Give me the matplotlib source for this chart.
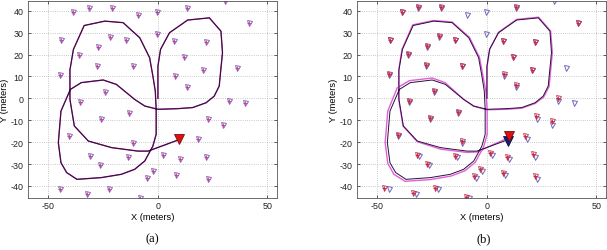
import matplotlib
matplotlib.use('Agg')
import matplotlib.pyplot as plt
import numpy as np

plt.rcParams['font.family'] = ['Liberation Sans', 'DejaVu Sans']
plt.rcParams['axes.unicode_minus'] = False

# True landmark positions (meters)
lm_x = [-38.6, -31.4, -20.9, -9.3, -0.6, 13.3, 30.6, 41.4, -44.1, -21.7,
        -14.4, -0.5, 7.4, 21.8, -27.3, -35.9, 12.0, -28.0, -11.5, 36.0,
        20.7, -44.7, 7.6, 13.3, -24.4, 32.4, 40.0, -35.5, -13.4, -25.8,
        22.7, 29.8, -40.8, 18.3, -11.5, -31.2, -13.6, 2.3, 10.3, 22.0,
        -26.4, -2.3, -4.9, 8.3, 22.9, -44.9, -32.6, -22.3, -8.2]
lm_y = [39.4, 41.4, 41.1, 38.0, 39.4, 41.4, 44.7, 34.6, 26.6, 27.9,
        26.9, 29.4, 26.0, 25.7, 23.3, 19.6, 19.0, 14.6, 14.6, 14.0,
        12.8, 10.8, 10.0, 5.0, 2.7, -1.4, -2.3, -1.7, -6.5, -9.6,
        -9.4, -12.0, -17.2, -18.7, -20.2, -26.3, -26.9, -25.7, -27.7, -26.9,
        -30.4, -33.2, -36.5, -35.2, -37.0, -41.4, -43.7, -41.2, -45.7]

# Estimated landmark positions in panel (b) (NaN = not estimated)
nan = np.nan
est_lm_x = [-38.6, -31.4, -20.9, nan, nan, 13.3, nan, 41.4, -44.1, -21.7,
            -14.4, nan, 7.4, 21.8, -27.3, -35.9, 12.0, -28.0, -11.5, nan,
            20.7, -44.7, 7.6, 13.3, -24.4, 32.4, nan, -35.5, -13.4, -25.8,
            22.2, 29.8, -40.8, 17.3, -11.5, -32.0, -14.4, 1.3, 9.3, 21.0,
            -27.2, -3.3, -5.9, 7.3, 21.9, -46.9, -33.8, -23.8, -9.4]
est_lm_y = [39.7, 41.9, 41.6, nan, nan, 41.9, nan, 34.6, 26.6, 28.4,
            26.9, nan, 26.3, 25.7, 23.8, 20.1, 19.0, 15.1, 14.6, nan,
            12.8, 11.3, 11.0, 6.0, 3.2, 0.1, nan, -1.2, -6.0, -9.1,
            -7.9, -10.5, -16.7, -17.2, -19.7, -26.0, -26.4, -24.9, -26.9, -25.4,
            -30.1, -32.4, -35.7, -34.2, -35.5, -41.1, -43.4, -40.9, -45.2]

# True robot path
path_x = [0, 0, 1.2, 5.3, 13.6, 23.5, 28.8, 29.5, 28.0, 25.7, 22.0, 15.9, 9.0, 0.0,
          -6.0, -10.6, -19.0, -25.0, -35.0, -40.0, -44.3, -45.5, -44.3, -41.7, -37.0,
          -25.8, -16.7, -10.6, -6.0, -2.3, -0.8, -0.8, -1.2, -2.3, -3.8, -8.3, -15.9,
          -24.3, -33.7, -38.6, -40.2, -40.2, -38.2, -31.8, -21.2, -9.1, -4.5, 9.3]
path_y = [0, 14.7, 22.4, 30.0, 35.8, 36.8, 30.7, 20.9, 5.6, 1.0, -2.0, -4.2, -4.7, -5.0,
          -3.5, -0.5, 6.4, 8.4, 7.2, 4.1, -5.8, -20.2, -29.4, -33.9, -37.0,
          -36.2, -34.7, -32.4, -28.6, -21.8, -16.4, -5.0, 3.3, 10.2, 18.6, 27.7, 34.6,
          35.3, 33.3, 22.4, 13.0, -0.5, -12.6, -19.5, -22.5, -24.1, -24.1, -19.0]

# Estimated robot path in panel (b)
est_path_x = [0, 0.1, 1.3, 5.3, 13.6, 23.6, 29.1, 29.9, 28.4, 26.0, 22.1, 15.9, 9.0, 0.0,
              -6.1, -10.8, -19.1, -25.0, -35.4, -41.0, -45.3, -46.5, -45.3, -42.5, -37.4,
              -25.8, -16.4, -10.1, -5.3, -1.5, 0.1, 0.1, -0.5, -1.8, -3.4, -8.0, -15.9,
              -24.3, -33.9, -38.8, -40.3, -40.3, -38.3, -31.8, -21.2, -9.1, -4.5, 10.0]
est_path_y = [0, 14.7, 22.5, 30.2, 36.1, 37.1, 30.8, 20.9, 5.4, 0.7, -2.3, -4.5, -5.0, -5.2,
              -3.6, -0.3, 7.2, 9.3, 8.1, 4.8, -5.8, -20.2, -29.7, -34.7, -37.9,
              -37.1, -35.5, -33.1, -29.2, -22.1, -16.4, -5.0, 3.3, 10.2, 18.7, 27.9, 34.9,
              35.6, 33.6, 22.4, 13.0, -0.5, -12.7, -19.8, -23.2, -24.7, -24.5, -17.9]

robot_true_x, robot_true_y = [9.8], [-19.3]
robot_est_a_x, robot_est_a_y = [9.8], [-18.6]
robot_est_b_x, robot_est_b_y = [10.3], [-17.4]

x_ticks = [-50, 0, 50]
y_ticks = [-40, -30, -20, -10, 0, 10, 20, 30, 40]
x_label = 'X (meters)'
y_label = 'Y (meters)'
captions = ['(a)', '(b)']

W, H = 607, 251
fig = plt.figure(figsize=(W / 100, H / 100), dpi=100)
axA = fig.add_axes([27.7 / W, (H - 198.5) / H, 249.5 / W, 196.5 / H])
axB = fig.add_axes([356.7 / W, (H - 198.5) / H, 249.5 / W, 196.5 / H])

TRUE_C = '#2a0e3c'
EST_C = '#b8309a'
LM_C = '#8a66b8'
PLUS_C = '#c83a8c'

def style(ax):
    ax.set_xlim(-59.5, 54.5)
    ax.set_ylim(-45.3, 44.5)
    ax.set_xticks(x_ticks)
    ax.set_yticks(y_ticks)
    ax.grid(True, linestyle=':', color='#b8b8b8', linewidth=0.6)
    ax.set_axisbelow(True)
    for s in ax.spines.values():
        s.set_linewidth(0.6)
        s.set_color('#555555')
    ax.tick_params(direction='in', length=2.5, width=0.5, labelsize=6.4,
                   colors='#222222', top=True, right=True)
    ax.tick_params(axis='x', pad=2.5)
    ax.tick_params(axis='y', pad=3)
    ax.set_xlabel(x_label, fontsize=6.7, labelpad=1.5)
    ax.set_ylabel(y_label, fontsize=6.7, labelpad=1)

# Panel (a)
style(axA)
axA.plot(path_x, path_y, color=EST_C, lw=1.0)
axA.plot(path_x, path_y, color=TRUE_C, lw=0.7)
axA.plot(lm_x, lm_y, 'v', ms=3.6, mfc='none', mec=LM_C, mew=0.7)
axA.plot(lm_x, lm_y, '+', ms=2.8, color=PLUS_C, mew=0.6)
axA.plot(robot_est_a_x, robot_est_a_y, 'v', ms=7.5, mfc='#e01010', mec='#701010', mew=0.6)

# Panel (b)
style(axB)
axB.plot(est_path_x, est_path_y, color='#e060d8', lw=1.0)
axB.plot(path_x, path_y, color=TRUE_C, lw=0.7)
axB.plot(lm_x, lm_y, 'v', ms=3.6, mfc='none', mec='#7066b8', mew=0.7)
axB.plot(est_lm_x, est_lm_y, 'v', ms=3.6, mfc='none', mec='#c0304a', mew=0.6)
axB.plot(est_lm_x, est_lm_y, '+', ms=2.8, color='#d02040', mew=0.6)
axB.plot(robot_true_x, robot_true_y, 'v', ms=7.5, mfc='#1a1a70', mec='#10104a', mew=0.6)
axB.plot(robot_est_b_x, robot_est_b_y, 'v', ms=7.5, mfc='#e01010', mec='#701010', mew=0.6)

fig.text(152 / W, 1 - 239 / H, captions[0], fontsize=9, family='Liberation Serif',
         ha='center', va='center')
fig.text(484 / W, 1 - 239 / H, captions[1], fontsize=9, family='Liberation Serif',
         ha='center', va='center')

fig.savefig('out.png', dpi=100)
